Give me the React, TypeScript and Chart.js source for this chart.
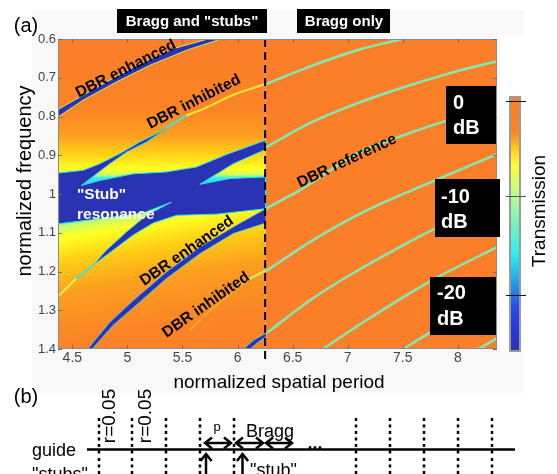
import React, { useEffect, useRef } from "react";
import { Chart, registerables } from "chart.js";

Chart.register(...registerables);

const xTicks = [4.5, 5, 5.5, 6, 6.5, 7, 7.5, 8];
const yTicks = [0.6, 0.7, 0.8, 0.9, 1, 1.1, 1.2, 1.3, 1.4];
const xRange = [4.37, 8.355];
const yRange = [0.6, 1.4];

type P = [number, number];

const upperField: P[] = [[4.37, 0.6], [6.255, 0.6], [6.255, 1.0], [4.37, 1.0]];
const lowerField: P[] = [[4.37, 1.0], [6.255, 1.0], [6.255, 1.4], [4.37, 1.4]];
const braggField: P[] = [[6.255, 0.6], [8.355, 0.6], [8.355, 1.4], [6.255, 1.4]];

const stubResonance: P[] = [
  [4.37, 0.946], [4.597, 0.939], [4.749, 0.922], [4.93, 0.896], [5.112, 0.866], [5.294, 0.84], [5.415, 0.818],
  [5.415, 0.82], [5.173, 0.866], [4.991, 0.892], [4.84, 0.922], [4.582, 0.978],
  [4.749, 0.965], [5.052, 0.948], [5.355, 0.943], [5.628, 0.93], [5.9, 0.898], [6.255, 0.861],
  [6.255, 0.885], [5.961, 0.922], [5.658, 0.975], [5.931, 0.96], [6.255, 0.956],
  [6.255, 1.038], [5.809, 1.052], [5.446, 1.055], [5.234, 1.075], [5.052, 1.106], [4.87, 1.145], [4.688, 1.184],
  [4.809, 1.145], [4.991, 1.098], [5.173, 1.055], [5.4, 1.021], [5.143, 1.049], [4.749, 1.064], [4.37, 1.077],
];
const enhancedTop: P[] = [
  [4.37, 0.782], [4.567, 0.75], [4.809, 0.711], [5.112, 0.664], [5.415, 0.625], [5.718, 0.601],
  [5.84, 0.601], [5.537, 0.629], [5.203, 0.668], [4.9, 0.711], [4.597, 0.758], [4.37, 0.801],
];
const enhancedMid: P[] = [
  [6.255, 1.038], [5.961, 1.085], [5.658, 1.137], [5.355, 1.201], [5.052, 1.275], [4.84, 1.331], [4.634, 1.402],
  [4.673, 1.402], [4.87, 1.339], [5.112, 1.279], [5.355, 1.218], [5.658, 1.154], [5.961, 1.102], [6.255, 1.075],
];
const enhancedLow: P[] = [
  [6.255, 1.359], [6.143, 1.378], [6.046, 1.402], [6.106, 1.402], [6.188, 1.382], [6.255, 1.369],
];

const inhibitedTopCyan: P[] = [[5.355, 0.829], [5.537, 0.797]];
const inhibitedTopYellow: P[] = [[5.537, 0.797], [5.718, 0.777], [5.961, 0.744], [6.255, 0.716]];
const sliverCyan: P[] = [[4.688, 1.184], [4.537, 1.218]];
const sliverYellow: P[] = [[4.537, 1.218], [4.37, 1.264]];
const inhibitedLowYellow: P[] = [[6.255, 1.197], [6.097, 1.221]];
const inhibitedLowOrange: P[] = [[6.097, 1.221], [5.9, 1.266], [5.718, 1.309], [5.567, 1.352]];

const bragg1: P[] = [[6.255, 0.718], [6.295, 0.712], [6.685, 0.668], [7.085, 0.629], [7.495, 0.6]];
const bragg2: P[] = [[6.255, 0.881], [6.295, 0.874], [6.655, 0.817], [7.085, 0.766], [7.5, 0.725], [7.93, 0.688], [8.355, 0.657]];
const bragg3: P[] = [[6.255, 1.04], [6.295, 1.032], [6.567, 0.99], [6.685, 0.969], [7.085, 0.895], [7.5, 0.849], [7.93, 0.808], [8.355, 0.776]];
const bragg4: P[] = [[6.255, 1.2], [6.295, 1.192], [6.685, 1.119], [7.14, 1.047], [7.585, 0.99], [8.355, 0.897]];
const bragg5: P[] = [[6.255, 1.36], [6.295, 1.352], [6.685, 1.269], [7.14, 1.189], [7.505, 1.132], [7.78, 1.091], [8.355, 1.008]];
const bragg6: P[] = [[6.776, 1.4], [7.14, 1.331], [7.505, 1.266], [7.813, 1.215], [8.355, 1.137]];
const bragg7: P[] = [[7.505, 1.4], [7.75, 1.357], [8.355, 1.256]];
const bragg8: P[] = [[8.185, 1.4], [8.355, 1.372]];
const dividerLine: P[] = [[6.25, 0.6], [6.25, 1.432]];

const FONT = '"Liberation Sans", Arial, sans-serif';
const BLUE = "#2A33B4";
const ORANGE = "#FB7F28";
const EDGE = "#80EAB4";

function gradient(chart: any, x0: number, y0: number, x1: number, y1: number, stops: [number, string][]) {
  const g = chart.ctx.createLinearGradient(x0, y0, x1, y1);
  stops.forEach(([o, c]) => g.addColorStop(o, c));
  return g;
}

function upperFill(ctx: any) {
  const c = ctx.chart;
  const y = c.scales?.y;
  if (!y || !c.chartArea) return ORANGE;
  const y0 = y.getPixelForValue(0.6);
  const y1 = y.getPixelForValue(1.0);
  const at = (f: number) => (f - 0.6) / 0.4;
  return gradient(c, 0, y0, 0, y1, [
    [0, "#FB7E29"], [at(0.78), "#FB8426"], [at(0.85), "#FC9F1F"], [at(0.895), "#FFD015"], [at(0.935), "#FFFF22"],
    [at(0.95), "#D0FF60"], [at(0.958), "#38F0E8"], [at(0.975), "#30C8F0"], [1, BLUE],
  ]);
}

function lowerFill(ctx: any) {
  const c = ctx.chart;
  const s = c.scales;
  if (!s?.y || !c.chartArea) return ORANGE;
  const x0 = s.x.getPixelForValue(4.37);
  const y0 = s.y.getPixelForValue(1.07);
  const len = 200;
  return gradient(c, x0, y0, x0 + len * 0.16, y0 + len * 0.987, [
    [0, "#38F0E8"], [0.03, "#C8FF68"], [0.09, "#FFFF22"], [0.2, "#FFD015"], [0.36, "#FC9F1F"], [0.6, "#FB8426"], [1, "#FB7E29"],
  ]);
}

const shape = (data: P[], fill: any, border = "transparent", width = 0) => ({
  data: data.map(([x, y]) => ({ x, y })),
  showLine: true,
  fill: "shape",
  backgroundColor: fill,
  borderColor: border,
  borderWidth: width,
  pointRadius: 0,
  tension: 0,
});
const curve = (data: P[], color: string, width = 2.5, tension = 0.3) => ({
  data: data.map(([x, y]) => ({ x, y })),
  showLine: true,
  fill: false,
  borderColor: color,
  borderWidth: width,
  pointRadius: 0,
  tension,
});

function text(c: CanvasRenderingContext2D, s: string, x: number, y: number, font: string, color: string, rot = 0, align: CanvasTextAlign = "center") {
  c.save();
  c.translate(x, y);
  if (rot) c.rotate((rot * Math.PI) / 180);
  c.font = `${font} ${FONT}`.trim();
  c.fillStyle = color;
  c.textAlign = align;
  c.textBaseline = "middle";
  c.fillText(s, 0, 0);
  c.restore();
}

function arrowHead(c: CanvasRenderingContext2D, x: number, y: number, dx: number, dy: number) {
  const s = 7;
  c.beginPath();
  c.moveTo(x - dx * s - dy * s * 0.8, y - dy * s - dx * s * 0.8);
  c.lineTo(x, y);
  c.lineTo(x - dx * s + dy * s * 0.8, y - dy * s + dx * s * 0.8);
  c.stroke();
}

function doubleArrow(c: CanvasRenderingContext2D, x0: number, y0: number, x1: number, y1: number) {
  const len = Math.hypot(x1 - x0, y1 - y0);
  const dx = (x1 - x0) / len;
  const dy = (y1 - y0) / len;
  c.lineWidth = 2.5;
  c.strokeStyle = "#000";
  c.beginPath();
  c.moveTo(x0, y0);
  c.lineTo(x1, y1);
  c.stroke();
  arrowHead(c, x1, y1, dx, dy);
  arrowHead(c, x0, y0, -dx, -dy);
}

const backdrop = {
  id: "backdrop",
  beforeDraw(chart: any) {
    const c = chart.ctx as CanvasRenderingContext2D;
    c.save();
    c.fillStyle = "#fff";
    c.fillRect(0, 0, 557, 474);
    c.fillStyle = "#F8F8F8";
    c.fillRect(32, 10, 492, 25);
    c.fillRect(32, 35, 468, 358);
    c.fillRect(500, 352, 24, 41);
    c.restore();
  },
};

const annotate = {
  id: "annotate",
  afterDatasetsDraw(chart: any) {
    const c = chart.ctx as CanvasRenderingContext2D;
    const a = chart.chartArea;
    const { x, y } = chart.scales;
    c.save();
    c.strokeStyle = "#8C8C8C";
    c.lineWidth = 1;
    c.strokeRect(a.left + 0.5, a.top + 0.5, a.right - a.left - 1, a.bottom - a.top - 1);
    c.strokeStyle = "#6E6E6E";
    c.beginPath();
    xTicks.forEach((v) => {
      const p = Math.round(x.getPixelForValue(v)) + 0.5;
      c.moveTo(p, a.top);
      c.lineTo(p, a.top + 4);
      c.moveTo(p, a.bottom);
      c.lineTo(p, a.bottom - 4);
    });
    yTicks.forEach((v) => {
      const p = Math.round(y.getPixelForValue(v)) + 0.5;
      c.moveTo(a.left, p);
      c.lineTo(a.left + 4, p);
      c.moveTo(a.right, p);
      c.lineTo(a.right - 4, p);
    });
    c.stroke();

    const bold = "bold 15.5px";
    text(c, "DBR enhanced", 126, 69, bold, "#000", -27);
    text(c, "DBR inhibited", 194, 102, bold, "#000", -27);
    text(c, "DBR enhanced", 187, 251, bold, "#000", -35);
    text(c, "DBR inhibited", 206, 305, bold, "#000", -35);
    text(c, "DBR reference", 347, 161, bold, "#000", -25);
    text(c, '"Stub"', 77, 195, bold, "#fff", 0, "left");
    text(c, "resonance", 77, 215, bold, "#fff", 0, "left");

    c.fillStyle = "#000";
    c.fillRect(117, 9, 150, 24);
    c.fillRect(297, 9, 93, 24);
    text(c, 'Bragg and "stubs"', 192, 22, "bold 15px", "#fff");
    text(c, "Bragg only", 344, 22, "bold 15px", "#fff");

    c.fillStyle = "#000";
    c.fillRect(446, 86, 50, 58);
    c.fillRect(435, 179, 65, 58);
    c.fillRect(430, 277, 66, 58);
    const db = "bold 20px";
    text(c, "0", 453, 103, db, "#fff", 0, "left");
    text(c, "dB", 453, 128, db, "#fff", 0, "left");
    text(c, "-10", 441, 197, db, "#fff", 0, "left");
    text(c, "dB", 441, 222, db, "#fff", 0, "left");
    text(c, "-20", 437, 293, db, "#fff", 0, "left");
    text(c, "dB", 437, 319, db, "#fff", 0, "left");

    const bar = gradient(chart, 0, 97, 0, 351, [
      [0, "#FB7F28"], [0.14, "#FB8426"], [0.2, "#FFC81C"], [0.27, "#FFFF33"], [0.37, "#C4FF88"], [0.5, "#78F0C0"],
      [0.62, "#28F0F0"], [0.72, "#20A8E8"], [0.82, "#2850E8"], [0.9, "#2838E0"], [1, "#2A33B4"],
    ]);
    c.fillStyle = bar;
    c.fillRect(510, 97, 10, 254);
    c.strokeStyle = "#9A9A9A";
    c.lineWidth = 2;
    c.strokeRect(510, 97, 10, 254);
    c.lineWidth = 1;
    c.strokeStyle = "#111";
    c.beginPath();
    c.moveTo(506, 101.5);
    c.lineTo(526, 101.5);
    c.moveTo(506, 295.5);
    c.lineTo(526, 295.5);
    c.stroke();
    c.strokeStyle = "#555";
    c.beginPath();
    c.moveTo(506, 196.5);
    c.lineTo(526, 196.5);
    c.stroke();
    text(c, "Transmission", 540, 211, "19px", "#000", -90);

    text(c, "(a)", 26, 26, "20px", "#000");
    text(c, "(b)", 26, 397, "20px", "#000");
    text(c, "normalized frequency", 25, 181, "20px", "#000", -90);
    text(c, "normalized spatial period", 279, 383, "19px", "#000");

    c.strokeStyle = "#000";
    c.lineWidth = 2.5;
    c.beginPath();
    c.moveTo(87, 449.5);
    c.lineTo(515, 449.5);
    c.stroke();
    const holes = [99, 132, 166, 200, 234, 356, 390, 424, 458, 492];
    c.lineWidth = 2.5;
    c.setLineDash([3, 3.5]);
    holes.forEach((h) => {
      c.beginPath();
      c.moveTo(h, 418);
      c.lineTo(h, 455);
      c.moveTo(h, 458);
      c.lineTo(h, 474);
      c.stroke();
    });
    c.setLineDash([]);
    doubleArrow(c, 205, 443, 231, 443);
    doubleArrow(c, 236, 443, 263, 443);
    doubleArrow(c, 266, 443, 292, 443);
    doubleArrow(c, 206, 454, 206, 482);
    doubleArrow(c, 242.5, 454, 242.5, 482);
    text(c, "r=0.05", 110, 416, "19px", "#000", -90);
    text(c, "r=0.05", 146, 416, "19px", "#000", -90);
    text(c, "p", 217, 427, "13px", "#000");
    text(c, "Bragg", 270, 432, "18px", "#000");
    text(c, "...", 315, 444, "bold 18px", "#000");
    text(c, "guide", 32, 451, "18px", "#000", 0, "left");
    text(c, '"stubs"', 32, 475, "18px", "#000", 0, "left");
    text(c, '"stub"', 250, 471, "18px", "#000", 0, "left");
    c.restore();
  },
};

export default function App() {
  const ref = useRef<HTMLCanvasElement>(null);
  useEffect(() => {
    if (!ref.current) return;
    const layers: any[] = [
      shape(upperField, upperFill),
      shape(lowerField, lowerFill),
      shape(braggField, ORANGE),
      shape(stubResonance, BLUE, "#30E0E0", 1),
      shape(enhancedTop, BLUE, "#C8E860", 1),
      shape(enhancedMid, BLUE, "#40D8E8", 0.8),
      shape(enhancedLow, BLUE, "#40D8E8", 0.8),
      curve(inhibitedTopCyan, "#38E8E0", 2, 0),
      curve(inhibitedTopYellow, "#FFE630", 2),
      curve(sliverCyan, "#38E8D0", 2, 0),
      curve(sliverYellow, "#E8F040", 2, 0),
      curve(inhibitedLowYellow, "#D8F060", 2, 0),
      curve(inhibitedLowOrange, "#FFB020", 1.5),
      curve(bragg1, EDGE),
      curve(bragg2, EDGE),
      curve(bragg3, EDGE),
      curve(bragg4, EDGE),
      curve(bragg5, EDGE),
      curve(bragg6, EDGE),
      curve(bragg7, EDGE),
      curve(bragg8, EDGE),
      { ...curve(dividerLine, "#000", 2, 0), borderDash: [8, 5], clip: false },
    ];
    const chart = new Chart(ref.current, {
      type: "scatter",
      data: { datasets: layers.map((d, i) => ({ ...d, order: layers.length - i })) },
      plugins: [backdrop, annotate],
      options: {
        animation: false,
        responsive: false,
        devicePixelRatio: 1,
        layout: { padding: { left: 0, top: 39, right: 60, bottom: 105 } },
        plugins: { legend: { display: false }, tooltip: { enabled: false } },
        scales: {
          x: {
            type: "linear",
            min: xRange[0],
            max: xRange[1],
            afterFit: (s: any) => { s.height = 20; },
            afterBuildTicks: (s: any) => { s.ticks = xTicks.map((value) => ({ value })); },
            grid: { display: false, drawTicks: false },
            border: { display: false },
            ticks: { color: "#444", padding: 1, maxRotation: 0, autoSkip: false, font: { family: FONT, size: 14 }, callback: (v: any) => String(v) },
          },
          y: {
            type: "linear",
            reverse: true,
            min: yRange[0],
            max: yRange[1],
            afterFit: (s: any) => { s.width = 58; },
            afterBuildTicks: (s: any) => { s.ticks = yTicks.map((value) => ({ value })); },
            grid: { display: false, drawTicks: false },
            border: { display: false },
            ticks: { color: "#444", padding: 2, autoSkip: false, font: { family: FONT, size: 13 }, callback: (v: any) => String(v) },
          },
        },
      } as any,
    });
    return () => chart.destroy();
  }, []);
  return (
    <div style={{ position: "absolute", left: 0, top: 0, width: 557, height: 474, overflow: "hidden" }}>
      <canvas ref={ref} width={557} height={474} style={{ display: "block", filter: "blur(0.4px)" }} />
    </div>
  );
}
